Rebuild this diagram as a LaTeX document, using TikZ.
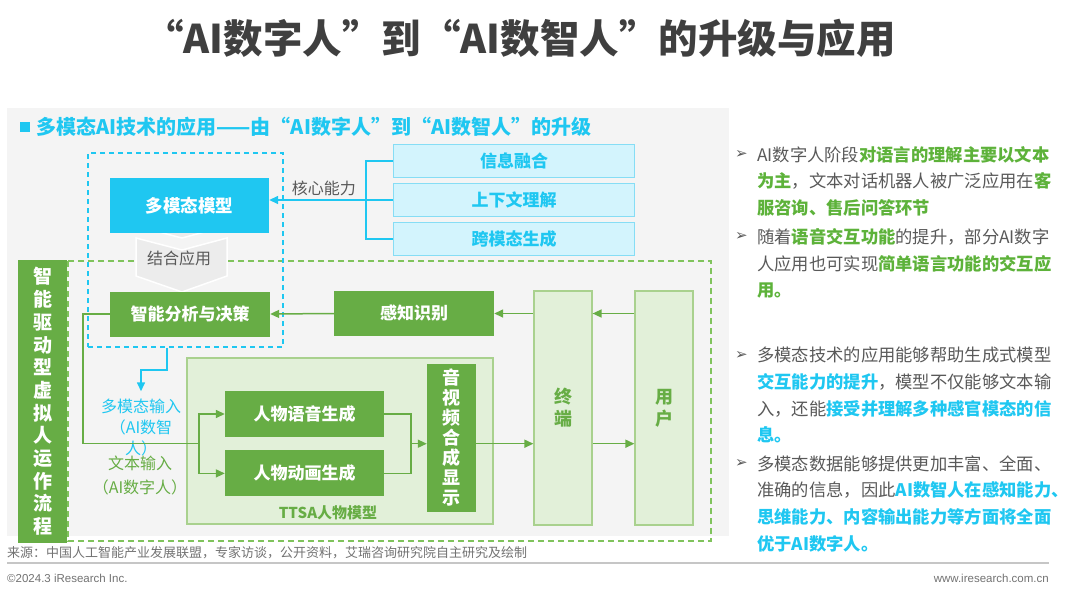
\documentclass[tikz,border=0pt]{standalone}
\usepackage{fontspec}
\setmainfont{Noto Sans CJK SC}
\newfontfamily\symfont{DejaVu Sans}
\newfontfamily\latinfont{Liberation Sans}
\usetikzlibrary{positioning,arrows.meta,calc}

\definecolor{irblue}{HTML}{1FC7F1}
\definecolor{irlightblue}{HTML}{D3F4FD}
\definecolor{irblueline}{HTML}{86DDF5}
\definecolor{irgreen}{HTML}{67AD45}
\definecolor{irlightgreen}{HTML}{E2F0D9}
\definecolor{irgreenline}{HTML}{A9D18E}
\definecolor{irdash}{HTML}{80C35C}
\definecolor{irtext}{HTML}{595959}
\definecolor{irtitle}{HTML}{3F3F3F}
\definecolor{irpanel}{HTML}{F4F4F4}
\definecolor{irchev}{HTML}{ECECEC}
\definecolor{irhlgreen}{HTML}{5DB23A}

\newcommand{\hlg}[1]{\textcolor{irhlgreen}{\bfseries #1}}
\newcommand{\hlb}[1]{\textcolor{irblue}{\bfseries #1}}

\begin{document}
\begin{tikzpicture}[x=1pt, y=-1pt,
cyanbox/.style={rectangle, fill=irblue, text=white, inner sep=0pt, font=\fontsize{17.5}{17.5}\selectfont\bfseries},
greenbox/.style={rectangle, fill=irgreen, text=white, inner sep=0pt, font=\fontsize{17}{17}\selectfont\bfseries},
corebox/.style={rectangle, draw=irblueline, fill=irlightblue, text=irblue, line width=1pt, inner sep=0pt, minimum width=241pt, minimum height=33pt, font=\fontsize{17}{17}\selectfont\bfseries},
lightbox/.style={rectangle, draw=irgreenline, fill=irlightgreen, line width=1.2pt, inner sep=0pt},
greenline/.style={draw=irgreen, line width=1.5pt},
greenarrow/.style={greenline, -{Triangle[length=9pt, width=8pt]}},
blueline/.style={draw=irblue, line width=1.5pt},
bluearrow/.style={blueline, -{Triangle[length=9pt, width=8pt]}},
note/.style={inner sep=0pt, text=irtext, font=\fontsize{16}{16}\selectfont},
para/.style={anchor=north west, align=left, inner sep=0pt, text=irtext, font=\fontsize{17.3}{26.7}\selectfont},
bullet/.style={inner sep=0pt, anchor=east, text=irtext, font=\symfont\fontsize{15}{15}\selectfont},
]
\useasboundingbox (0,0) rectangle (1080,592);

% title and panel
\node[font=\fontsize{39.5}{39.5}\selectfont\bfseries, text=irtitle] (title) at (520,38) {“AI数字人”到“AI数智人”的升级与应用};
\fill[irpanel] (7,108) rectangle (729,536);
\node[fill=irblue, minimum size=10pt, inner sep=0pt] (hdsq) at (25,127) {};
\node[right=6pt of hdsq, inner sep=0pt, text=irblue, font=\fontsize{20}{20}\selectfont\bfseries] (header) {多模态AI技术的应用——由“AI数字人”到“AI数智人”的升级};

% frames
\draw[irdash, line width=1.5pt, dash pattern=on 6pt off 4pt] (68,261) rectangle (711,541);
\node[draw=irblue, line width=1.5pt, dash pattern=on 5pt off 4pt, minimum width=195pt, minimum height=194pt] (upper) at (185.5,250) {};

% chevrons
\filldraw[fill=irchev, draw=white, line width=1.5pt] (136,215) -- (182,227) -- (227,215) -- (227,226) -- (182,238) -- (136,226) -- cycle;
\filldraw[fill=irchev, draw=white, line width=1.5pt] (136,238) -- (182,250) -- (227,238) -- (227,276) -- (182,292) -- (136,276) -- cycle;
\node[note] (combine) at (179,258) {结合应用};

% upper part
\node[cyanbox, minimum width=159pt, minimum height=55pt] (mmodel) at (189.5,205.5) {多模态模型};
\node[corebox] (info) at (514,161) {信息融合};
\node[corebox, below=5pt of info] (ctx) {上下文理解};
\node[corebox, below=5pt of ctx] (cross) {跨模态生成};
\coordinate (brk) at ($(ctx.west)+(-27,0)$);
\draw[blueline] (info.west) -| (brk) |- (cross.west);
\draw[bluearrow] (ctx.west) -- (mmodel.east |- ctx.west);
\node[note, above left=4pt and 10pt of brk] (core) {核心能力};

% flow
\node[greenbox, align=center, font=\fontsize{19}{22.7}\selectfont\bfseries, minimum width=49pt, minimum height=283pt] (flow) at (42.5,401.5) {智\\能\\驱\\动\\型\\虚\\拟\\人\\运\\作\\流\\程};
\node[greenbox, minimum width=160pt, minimum height=45pt] (decide) at (190,314) {智能分析与决策};
\node[greenbox, minimum width=160pt, minimum height=45pt] (sense) at (414,313.5) {感知识别};
\node[lightbox, align=center, text=irgreen, font=\fontsize{18}{22}\selectfont\bfseries, minimum width=58pt, minimum height=234pt] (terminal) at (563,408) {终\\端};
\node[lightbox, align=center, text=irgreen, font=\fontsize{18}{22}\selectfont\bfseries, minimum width=58pt, minimum height=234pt] (user) at (664,408) {用\\户};

\node[lightbox, minimum width=306pt, minimum height=166pt] (ttsa) at (340,441) {};
\node[text=irgreen, font=\fontsize{15}{15}\selectfont\bfseries, inner sep=0pt] (ttsalabel) at (328,513) {TTSA人物模型};
\node[greenbox, minimum width=159pt, minimum height=46pt] (voice) at (304.5,414) {人物语音生成};
\node[greenbox, minimum width=159pt, minimum height=46pt, below=13pt of voice] (anim) {人物动画生成};
\node[greenbox, align=center, font=\fontsize{18}{20}\selectfont\bfseries, minimum width=49pt, minimum height=148pt] (av) at (451.5,438) {音\\视\\频\\合\\成\\显\\示};

\node[align=center, inner sep=0pt, text=irblue, font=\fontsize{16}{21}\selectfont] (mminput) at (141,428) {多模态输入\\（AI数智\\人）};
\node[align=center, inner sep=0pt, text=irgreen, font=\fontsize{16}{24}\selectfont] (txtinput) at (140,475) {文本输入\\（AI数字人）};

% connectors
\draw[greenarrow] (user.west |- sense.east) -- (terminal.east |- sense.east);
\draw[greenarrow] (terminal.west |- sense.east) -- (sense.east);
\draw[greenarrow] (sense.west) -- (decide.east);
\coordinate (split) at ($(voice.west)!0.5!(anim.west)+(-26,0)$);
\draw[greenline] (decide.west) -- ++(-27,0) |- (split);
\draw[greenarrow] (split) |- (voice.west);
\draw[greenarrow] (split) |- (anim.west);
\coordinate (join) at ($(voice.east)!0.5!(anim.east)+(27,0)$);
\draw[greenline] (voice.east) -| (join) |- (anim.east);
\draw[greenarrow] (join) -- (av.west |- join);
\draw[greenarrow] (av.east |- join) -- (terminal.west |- join);
\draw[greenarrow] (terminal.east |- join) -- (user.west |- join);
\draw[bluearrow] ([xshift=-18.5pt]upper.south) -- ++(0,22) -| ([yshift=8pt]mminput.north);

% right column
\node[para] (p1) at (757,146) {AI数字人阶段\hlg{对语言的理解主要以文本}\\\hlg{为主}，文本对话机器人被广泛应用在\hlg{客}\\\hlg{服咨询、售后问答环节}};
\node[para, below=11.7pt of p1.south west, anchor=north west] (p2) {随着\hlg{语音交互功能}的提升，部分AI数字\\人应用也可实现\hlg{简单语言功能的交互应}\\\hlg{用。}};
\node[para] (p3) at (757,347) {多模态技术的应用能够帮助生成式模型\\\hlb{交互能力的提升}，模型不仅能够文本输\\入，还能\hlb{接受并理解多种感官模态的信}\\\hlb{息。}};
\node[para, below=11.7pt of p3.south west, anchor=north west] (p4) {多模态数据能够提供更加丰富、全面、\\准确的信息，因此\hlb{AI数智人在感知能力、}\\\hlb{思维能力、内容输出能力等方面将全面}\\\hlb{优于AI数字人。}};
\node[bullet] at ([xshift=-9pt, yshift=-8pt]p1.north west) {➢};
\node[bullet] at ([xshift=-9pt, yshift=-8pt]p2.north west) {➢};
\node[bullet] at ([xshift=-9pt, yshift=-8pt]p3.north west) {➢};
\node[bullet] at ([xshift=-9pt, yshift=-8pt]p4.north west) {➢};

% footer
\node[anchor=west, inner sep=0pt, text=irtext!85, font=\fontsize{13}{13}\selectfont] (source) at (7,553) {来源：中国人工智能产业发展联盟，专家访谈，公开资料，艾瑞咨询研究院自主研究及绘制};
\draw[gray!45, line width=1.5pt] (7,563) -- (1049,563);
\node[anchor=west, inner sep=0pt, text=irtext!85, font=\latinfont\fontsize{11.5}{11.5}\selectfont] (copy) at (7,578) {©2024.3 iResearch Inc.};
\node[anchor=east, inner sep=0pt, text=irtext!85, font=\latinfont\fontsize{11.5}{11.5}\selectfont] (web) at (1049,578) {www.iresearch.com.cn};
\end{tikzpicture}
\end{document}
